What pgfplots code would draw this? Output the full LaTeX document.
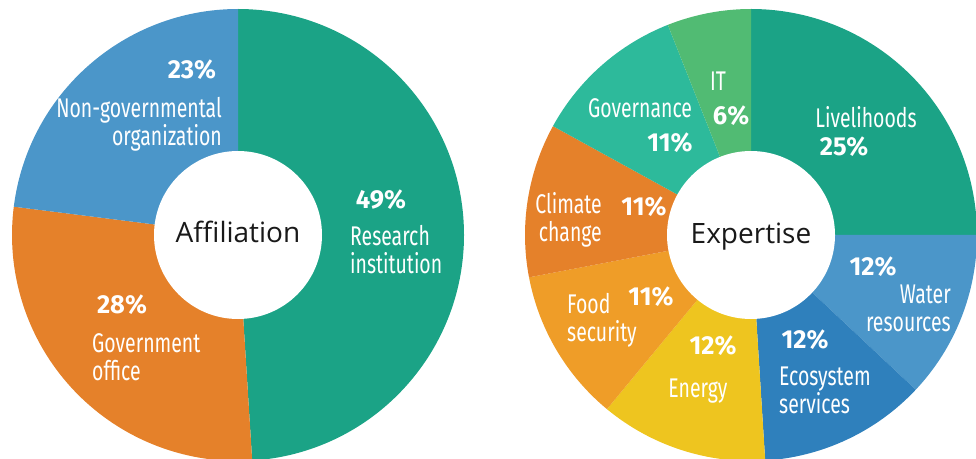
\documentclass[border=0pt]{standalone}
\usepackage{fontspec}
\setmainfont{Open Sans}
\newfontfamily\cond{Fira Sans}[FakeStretch=0.72]
\newfontfamily\pct{Fira Sans}[FakeStretch=0.98]
\usepackage{pgfplots}
\usepackage{pgfplotstable}
\pgfplotsset{compat=1.18}

\definecolor{cTeal}{HTML}{1BA386}
\definecolor{cOrange}{HTML}{E5812A}
\definecolor{cBlue}{HTML}{4B96C9}
\definecolor{cBlueD}{HTML}{2F80BC}
\definecolor{cYellow}{HTML}{EEC51F}
\definecolor{cOrangeL}{HTML}{EF9D28}
\definecolor{cTealL}{HTML}{2DBA9B}
\definecolor{cGreen}{HTML}{51BB73}

\pgfplotstableread{
name value color
Research 49 cTeal
Government 28 cOrange
NGO 23 cBlue
}\affil

\pgfplotstableread{
name value color
Livelihoods 25 cTeal
Water 12 cBlue
Ecosystem 12 cBlueD
Energy 12 cYellow
Food 11 cOrangeL
Climate 11 cOrange
Governance 11 cTealL
IT 6 cGreen
}\expert

% #1 table, #2 cx, #3 cy, #4 last row index, #5 outer radius, #6 inner radius
\newcommand\drawdonut[6]{%
  \xdef\curang{90}%
  \pgfplotsinvokeforeach{0,...,#4}{%
    \pgfplotstablegetelem{##1}{value}\of#1%
    \pgfmathsetmacro\endang{\curang-3.6*\pgfplotsretval}%
    \pgfplotstablegetelem{##1}{color}\of#1%
    \let\wcol\pgfplotsretval
    \edef\temp{\noexpand\fill[\wcol] (axis cs:#2,#3) -- ++(\curang:#5pt) arc[start angle=\curang, end angle=\endang, radius=#5pt] -- cycle;}%
    \temp
    \xdef\curang{\endang}%
  }%
  \fill[white] (axis cs:#2,#3) circle[radius=#6pt];
}

\begin{document}
\begin{tikzpicture}[
  lbl/.style={font=\cond\fontsize{27}{28}\selectfont, text=white, inner sep=0pt},
  pc/.style={font=\pct\bfseries\fontsize{26}{28}\selectfont, text=white, inner sep=0pt},
  ctr/.style={font=\fontsize{28}{32}\selectfont, text=black!90, inner sep=0pt, anchor=base}]
\begin{axis}[x=1pt, y=1pt, xmin=0, xmax=976, ymin=0, ymax=458, hide axis, clip=true]
\coordinate (bl) at (rel axis cs:0,0);
\coordinate (tr) at (rel axis cs:1,1);
\drawdonut{\affil}{238}{223}{2}{226}{84}
\drawdonut{\expert}{751}{223}{7}{226}{84}

% Left labels
\node[ctr] at (axis cs:238,215) {Affiliation};
\node[pc] at (axis cs:192,388) {23\%};
\node[lbl, anchor=east, align=right] at (axis cs:222,334) {Non-governmental\\organization};
\node[pc] at (axis cs:381,258) {49\%};
\node[lbl, anchor=west, align=left] at (axis cs:350,208) {Research\\institution};
\node[pc] at (axis cs:122,153) {28\%};
\node[lbl, anchor=west, align=left] at (axis cs:92,101) {Government\\office};

% Right labels
\node[ctr] at (axis cs:751,214) {Expertise};
\node[lbl] at (axis cs:718,377) {IT};
\node[pc] at (axis cs:731,342) {6\%};
\node[lbl] at (axis cs:640,350) {Governance};
\node[pc] at (axis cs:670,315) {11\%};
\node[lbl] at (axis cs:866,341) {Livelihoods};
\node[pc] at (axis cs:844,311) {25\%};
\node[lbl, anchor=east, align=right] at (axis cs:602,238) {Climate\\change};
\node[pc] at (axis cs:644,251) {11\%};
\node[lbl, anchor=west, align=left] at (axis cs:567,138) {Food\\security};
\node[pc] at (axis cs:651,161) {11\%};
\node[pc] at (axis cs:713,112) {12\%};
\node[lbl] at (axis cs:698,67) {Energy};
\node[pc] at (axis cs:805,118) {12\%};
\node[lbl, anchor=west, align=left] at (axis cs:779,68) {Ecosystem\\services};
\node[pc] at (axis cs:873,191) {12\%};
\node[lbl, anchor=east, align=right] at (axis cs:951,150) {Water\\resources};
\end{axis}
\pgfresetboundingbox
\path[use as bounding box] (bl) rectangle (tr);
\end{tikzpicture}
\end{document}
